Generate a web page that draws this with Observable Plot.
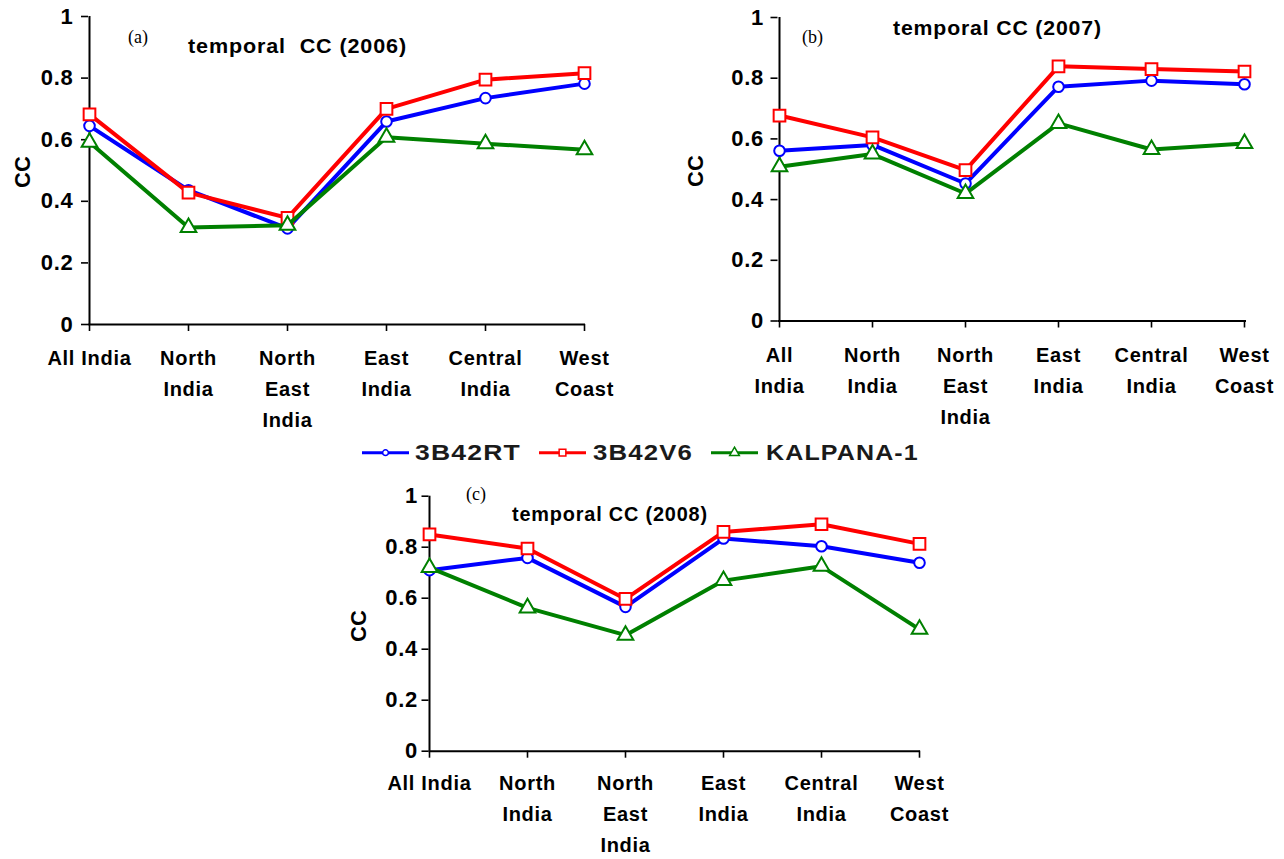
<!DOCTYPE html>
<html><head><meta charset="utf-8">
<script src="https://cdn.jsdelivr.net/npm/d3@7"></script>
<script src="https://cdn.jsdelivr.net/npm/@observablehq/plot@0.6"></script>
<style>
body{margin:0;background:#fff}
#root{position:relative;width:1284px;height:859px;overflow:hidden;background:#fff}
.panel{position:absolute}
.panel svg{overflow:visible}
#overlay{position:absolute;left:0;top:0}
</style></head>
<body><div id="root"></div>
<script>
// ---------- data ----------
const categories = ["All India","North India","North East India","East India","Central India","West Coast"];
const labelsA = ["All India","North\nIndia","North\nEast\nIndia","East\nIndia","Central\nIndia","West\nCoast"];
const labelsB = ["All\nIndia","North\nIndia","North\nEast\nIndia","East\nIndia","Central\nIndia","West\nCoast"];
const labelsC = ["All India","North\nIndia","North\nEast\nIndia","East\nIndia","Central\nIndia","West\nCoast"];
const yTicks = [0, 0.2, 0.4, 0.6, 0.8, 1];
const yTickLabels = ["0", "0.2", "0.4", "0.6", "0.8", "1"];

const seriesNames = ["3B42RT", "3B42V6", "KALPANA-1"];
const seriesColors = ["#0000ff", "#ff0000", "#008000"];
const seriesSymbols = ["circle", "square", "triangle"];

const rt2006 = [0.645, 0.436, 0.312, 0.659, 0.735, 0.782];
const v6_2006 = [0.682, 0.428, 0.346, 0.700, 0.795, 0.816];
const kal2006 = [0.592, 0.315, 0.322, 0.608, 0.587, 0.567];

const rt2007 = [0.561, 0.580, 0.453, 0.772, 0.792, 0.780];
const v6_2007 = [0.677, 0.605, 0.497, 0.839, 0.830, 0.822];
const kal2007 = [0.508, 0.550, 0.420, 0.651, 0.565, 0.585];

const rt2008 = [0.710, 0.758, 0.566, 0.834, 0.804, 0.739];
const v6_2008 = [0.850, 0.795, 0.597, 0.860, 0.890, 0.813];
const kal2008 = [0.720, 0.562, 0.455, 0.669, 0.725, 0.478];

const titles = ["temporal  CC (2006)", "temporal CC (2007)", "temporal CC (2008)"];
const panelTags = ["(a)", "(b)", "(c)"];

// ---------- panels ----------
const root = document.getElementById("root");
const seriesR = [5.3, 6.6, 5.8];

function makePanel(cfg) {
  const marks = [
    Plot.ruleY([0], {stroke: "#000", strokeWidth: 2}),
    Plot.ruleX([categories[0]], {stroke: "#000", strokeWidth: 2}),
    Plot.axisY({ticks: yTicks, tickFormat: () => "", tickSize: 7, label: null, strokeWidth: 1.6}),
    Plot.text(yTicks, {y: d => d, text: (d, i) => yTickLabels[i], frameAnchor: "left", textAnchor: "end", dx: -7 - cfg.yPad, fontSize: 22, fontWeight: "bold"}),
    Plot.axisX({tickSize: 7, tickPadding: cfg.xPad, tickFormat: d => cfg.labels[categories.indexOf(d)], lineHeight: 1.55, label: null, strokeWidth: 1.6})
  ];
  cfg.data.forEach((vals, s) => {
    marks.push(Plot.line(vals, {x: (d, i) => categories[i], y: d => d, stroke: seriesColors[s], strokeWidth: 4}));
    marks.push(Plot.dot(vals, {x: (d, i) => categories[i], y: d => d, symbol: seriesSymbols[s], r: seriesR[s], fill: "white", stroke: seriesColors[s], strokeWidth: 2}));
  });
  const svg = Plot.plot({
    width: cfg.width, height: cfg.height,
    marginLeft: cfg.mL, marginRight: cfg.mR, marginTop: cfg.mT, marginBottom: cfg.mB,
    x: {type: "point", domain: categories, padding: 0},
    y: {domain: [0, 1]},
    style: "font-family: 'Liberation Sans', Arial, sans-serif; font-size: 20px; font-weight: bold; letter-spacing: 0.7px; background: transparent; color: #000; overflow: visible;",
    marks
  });
  const div = document.createElement("div");
  div.className = "panel";
  div.style.left = cfg.left + "px";
  div.style.top = cfg.top + "px";
  div.appendChild(svg);
  root.appendChild(div);
}

makePanel({left: 0, top: 0, width: 640, height: 440, mL: 88, mR: 55, mT: 16, mB: 116, labels: labelsA, data: [rt2006, v6_2006, kal2006], yPad: 8, xPad: 11});
makePanel({left: 640, top: 0, width: 644, height: 440, mL: 137.5, mR: 38, mT: 17, mB: 119.5, labels: labelsB, data: [rt2007, v6_2007, kal2007], yPad: 7, xPad: 12});
makePanel({left: 330, top: 470, width: 640, height: 389, mL: 98.5, mR: 50, mT: 25.7, mB: 108.3, labels: labelsC, data: [rt2008, v6_2008, kal2008], yPad: 4, xPad: 10});

// ---------- annotations & legend ----------
const NS = "http://www.w3.org/2000/svg";
const ov = document.createElementNS(NS, "svg");
ov.setAttribute("id", "overlay");
ov.setAttribute("width", 1284);
ov.setAttribute("height", 859);
root.appendChild(ov);

function txt(s, attrs) {
  const t = document.createElementNS(NS, "text");
  t.textContent = s;
  for (const k in attrs) t.setAttribute(k, attrs[k]);
  ov.appendChild(t);
  return t;
}
function stretch(t, targetW) {
  const w = t.getComputedTextLength();
  const x = +t.getAttribute("x");
  if (w > 0) t.setAttribute("transform", `translate(${x},0) scale(${targetW / w},1) translate(${-x},0)`);
}
const sans = "'Liberation Sans', Arial, sans-serif";
const serif = "'Liberation Serif', 'Times New Roman', serif";

const titlePos = [[188, 53, 219, 20], [893, 35, 209, 20], [512, 521, 196, 19.5]];
titles.forEach((s, i) => {
  const [x, y, w, fs] = titlePos[i];
  const t = txt(s, {x, y, "font-family": sans, "font-size": fs, "font-weight": "bold", "letter-spacing": "0.8px", style: "white-space:pre"});
  stretch(t, w);
});
const tagPos = [[128, 43], [802, 43], [466, 500]];
panelTags.forEach((s, i) => {
  txt(s, {x: tagPos[i][0], y: tagPos[i][1], "font-family": serif, "font-size": 18});
});
const ccPos = [[22, 172], [695, 171], [358, 626]];
ccPos.forEach(([x, y]) => {
  txt("CC", {transform: `translate(${x},${y}) rotate(-90)`, "text-anchor": "middle", dy: "0.36em", "font-family": sans, "font-size": 22, "font-weight": "bold"});
});

// legend
const legY = 452.7;
const legLines = [[362, 409], [539, 586], [711, 758]];
const legText = [[415, 106], [593, 100], [766, 153]];
seriesNames.forEach((name, s) => {
  const [x1, x2] = legLines[s];
  const l = document.createElementNS(NS, "line");
  l.setAttribute("x1", x1); l.setAttribute("x2", x2);
  l.setAttribute("y1", legY); l.setAttribute("y2", legY);
  l.setAttribute("stroke", seriesColors[s]); l.setAttribute("stroke-width", 3);
  ov.appendChild(l);
  const cx = (x1 + x2) / 2;
  const p = document.createElementNS(NS, "path");
  const sym = s === 0 ? d3.symbolCircle : s === 1 ? d3.symbolSquare : d3.symbolTriangle;
  const size = s === 0 ? 26 : s === 1 ? 45 : 40;
  p.setAttribute("d", d3.symbol(sym, size)());
  p.setAttribute("transform", `translate(${cx},${legY})`);
  p.setAttribute("fill", "white");
  p.setAttribute("stroke", seriesColors[s]);
  p.setAttribute("stroke-width", 1.5);
  ov.appendChild(p);
  const [tx, tw] = legText[s];
  const t = txt(name, {x: tx, y: 460.5, "font-family": sans, "font-size": 22, "font-weight": "bold", "letter-spacing": "1px", fill: "#1a1a1a"});
  stretch(t, tw);
});
</script>
</body></html>
